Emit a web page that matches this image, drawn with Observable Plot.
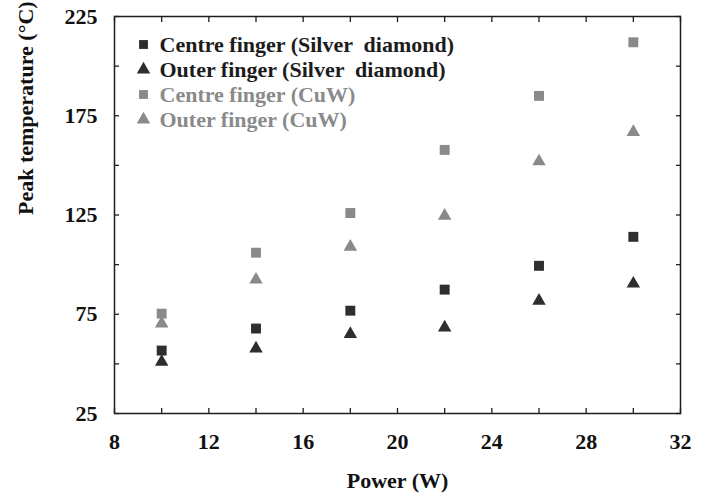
<!DOCTYPE html>
<html>
<head>
<meta charset="utf-8">
<script src="https://cdn.jsdelivr.net/npm/d3@7"></script>
<script src="https://cdn.jsdelivr.net/npm/@observablehq/plot@0.6"></script>
<style>
  html, body { margin: 0; padding: 0; background: #fff; }
</style>
</head>
<body>
<div id="chart"></div>
<script>
// ---- data ----
const power = [10, 14, 18, 22, 26, 30];
const centreSilver = [56.7, 67.8, 76.8, 87.4, 99.4, 114];
const outerSilver = [51, 57.7, 65, 68.3, 81.8, 90.4];
const centreCuW = [75.3, 106, 126, 157.8, 185, 212];
const outerCuW = [70.3, 92.4, 109, 124.6, 152, 166.8];

const seriesNames = [
  "Centre finger (Silver  diamond)",
  "Outer finger (Silver  diamond)",
  "Centre finger (CuW)",
  "Outer finger (CuW)"
];
const seriesValues = [centreSilver, outerSilver, centreCuW, outerCuW];
const seriesSymbols = ["square", "triangle", "square", "triangle"];
const seriesColors = ["#2e2e2e", "#2e2e2e", "#8a8a8a", "#8a8a8a"];
const textColors = ["#1c1c1c", "#1c1c1c", "#8a8a8a", "#8a8a8a"];

const xTickLabels = [8, 12, 16, 20, 24, 28, 32];
const xTicks = [8, 10, 12, 14, 16, 18, 20, 22, 24, 26, 28, 30, 32];
const yTickLabels = [25, 75, 125, 175, 225];
const yTicks = [25, 50, 75, 100, 125, 150, 175, 200, 225];
const xTitle = "Power (W)";
const yTitle = "Peak temperature (\u00B0C)";

const serifFont = "Liberation Serif";

// ---- build table ----
const rows = [];
seriesNames.forEach((name, i) => {
  power.forEach((p, j) => rows.push({series: name, power: p, temp: seriesValues[i][j], idx: i}));
});

const marks = [
  Plot.frame({stroke: "#1e1e1e", strokeWidth: 1.5}),
  Plot.axisX(xTicks, {anchor: "bottom", tickSize: -5, tickFormat: () => "", label: null, stroke: "#1e1e1e", strokeWidth: 1.3}),
  Plot.axisX(xTicks, {anchor: "top", tickSize: -5, tickFormat: () => "", label: null, stroke: "#1e1e1e", strokeWidth: 1.3}),
  Plot.axisY(yTicks, {anchor: "left", tickSize: -5, tickFormat: () => "", label: null, stroke: "#1e1e1e", strokeWidth: 1.3}),
  Plot.axisY(yTicks, {anchor: "right", tickSize: -5, tickFormat: () => "", label: null, stroke: "#1e1e1e", strokeWidth: 1.3}),
  Plot.axisX(xTickLabels, {anchor: "bottom", tickSize: 0, tickPadding: 20, label: null, fill: "#111", fontFamily: serifFont, fontWeight: "bold", fontSize: 22}),
  Plot.axisY(yTickLabels, {anchor: "left", tickSize: 0, tickPadding: 17, label: null, fill: "#111", fontFamily: serifFont, fontWeight: "bold", fontSize: 22}),
  Plot.text([xTitle], {frameAnchor: "bottom", lineAnchor: "middle", dy: 67, fontSize: 22, fill: "#111", fontFamily: serifFont, fontWeight: "bold"}),
  Plot.text([yTitle], {frameAnchor: "left", lineAnchor: "middle", rotate: -90, dx: -89, fontSize: 22, fill: "#111", fontFamily: serifFont, fontWeight: "bold"})
];

seriesNames.forEach((name, i) => {
  const data = rows.filter(d => d.idx === i);
  marks.push(Plot.dot(data, {
    x: "power", y: "temp",
    symbol: () => seriesSymbols[i],
    r: seriesSymbols[i] === "square" ? 5.6 : 5,
    fill: seriesColors[i], stroke: "none"
  }));
  // legend row
  marks.push(Plot.dot([name], {
    frameAnchor: "top-left", dx: 29, dy: 28 + 25 * i,
    symbol: () => seriesSymbols[i],
    r: 5,
    fill: seriesColors[i], stroke: "none"
  }));
  marks.push(Plot.text([name], {
    frameAnchor: "top-left", dx: 45, dy: 28 + 25 * i,
    lineAnchor: "middle",
    text: d => d, textAnchor: "start", fontSize: 22,
    fill: textColors[i], fontFamily: serifFont, fontWeight: "bold"
  }));
});

const chart = Plot.plot({
  width: 704,
  height: 494,
  marginLeft: 114,
  marginRight: 24,
  marginTop: 16,
  marginBottom: 81,
  x: {domain: [8, 32]},
  y: {domain: [25, 225]},
  symbol: {type: "identity"},
  style: {
    fontSize: "22px",
    fontFamily: serifFont,
    fontWeight: "bold",
    background: "#fff",
    color: "#111",
    overflow: "visible"
  },
  marks
});
chart.querySelectorAll("text").forEach(t => {
  t.setAttribute("xml:space", "preserve");
  t.style.whiteSpace = "pre";
});
document.getElementById("chart").appendChild(chart);
</script>
</body>
</html>
